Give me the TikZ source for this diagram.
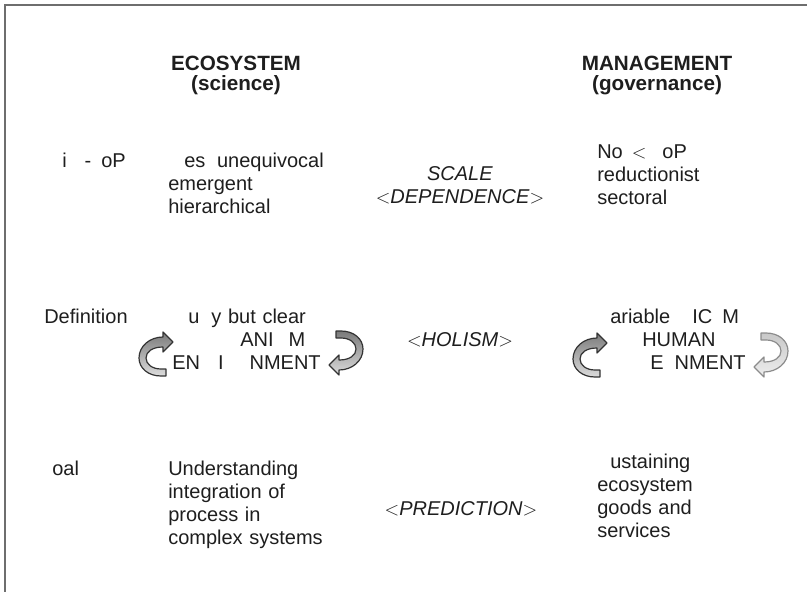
\documentclass[tikz,border=0pt]{standalone}
\usepackage{fontspec}
\setmainfont{Liberation Sans}
\usetikzlibrary{positioning}

\definecolor{rahmen}{HTML}{6E6E6E}
\definecolor{schrift}{HTML}{1E1E1E}
\definecolor{pfeilkopf}{HTML}{7A7A7A}
\definecolor{pfeilende}{HTML}{DCDCDC}
\definecolor{pfeilhell}{HTML}{C8C8C8}
\definecolor{pfeilblass}{HTML}{EEEEEE}
\newcommand{\grundschrift}{\fontsize{15}{17.25}\selectfont}

% U-turn ribbon arrow: position, rotation, head colour, tail colour, outline
\newcommand{\wendepfeil}[5]{%
  \begin{scope}[shift={#1},rotate=#2]
    \shade[draw=#5,line width=0.9pt,line join=round,top color=#3,bottom color=#4]
      (7,-17) .. controls (-6,-17) and (-17,-8) .. (-17,4)
      .. controls (-17,14) and (-8,22) .. (5,22) -- (10,22) -- (10,15) -- (5,15)
      .. controls (-4,15) and (-10,10) .. (-10,4)
      .. controls (-10,-2) and (-4,-7) .. (7,-7)
      -- (7,-2) -- (17,-12) -- (7,-22) -- cycle;
  \end{scope}}

\begin{document}
\begin{tikzpicture}[
  x=0.75pt, y=-0.75pt,
  every node/.style = {inner sep=0pt, text=schrift, font=\grundschrift},
  kopf/.style = {anchor=base, align=center, text width=160pt,
                 font=\bfseries\fontsize{15.5}{15.75}\selectfont},
  zeile/.style = {anchor=base west},
  block/.style = {anchor=base west, align=left, text width=150pt},
  mitte/.style = {anchor=base, align=center, text width=150pt}
  ]
  \useasboundingbox (0,0) rectangle (807,592);
  \draw[rahmen, line width=1.6pt] (5,592) |- (807,5);

  % column heads
  \node[kopf] (oekosystem) at (236,70) {ECOSYSTEM\\(science)};
  \node[kopf] (management) at (657,70) {MANAGEMENT\\(governance)};

  % first row
  \node[zeile] (sicht) at (62,167) {i\hspace{0.9em}-\hspace{0.5em}oP};
  \node[block] (sicht-oeko) at (168,167) {\hspace{0.8em}es\hspace{0.25em} unequivocal\\emergent\\hierarchical};
  \node[mitte] (skala) at (460,180) {\textit{SCALE}\\$<$\textit{DEPENDENCE}$>$};
  \node[block] (sicht-mgmt) at (597,158) {No\hspace{0.45em}$<$\hspace{0.8em}oP\\reductionist\\sectoral};

  % second row
  \node[zeile] (definition) at (44,323) {Definition};
  \node[block] (def-oeko) at (168,323) {\hspace{1em}u\hspace{0.6em}y but clear\\
    \hspace{3.6em}ANI\hspace{0.75em}M\\\hspace{0.2em}EN\hspace{0.9em}I\hspace{1.3em}NMENT};
  \node[mitte] (holismus) at (460,346) {$<$\textit{HOLISM}$>$};
  \node[block] (def-mgmt) at (610,323) {ariable\hspace{1.1em}IC\hspace{0.5em}M\\
    \hspace{1.6em}HUMAN\\\hspace{2em}E\hspace{0.55em}NMENT};

  % third row
  \node[zeile] (ziel) at (52,475) {oal};
  \node[block] (ziel-oeko) at (168,475) {Understanding\\integration of\\process in\\complex systems};
  \node[mitte] (vorhersage) at (461,515) {$<$\textit{PREDICTION}$>$};
  \node[block] (ziel-mgmt) at (597,468) {\hspace{0.65em}ustaining\\ecosystem\\goods and\\services};

  % feedback arrows
  \wendepfeil{(156,354)}{0}{pfeilkopf}{pfeilende}{black!80}
  \wendepfeil{(346,353)}{180}{pfeilkopf}{pfeilende}{black!80}
  \wendepfeil{(590,355)}{0}{pfeilkopf}{pfeilende}{black!80}
  \wendepfeil{(771,355)}{180}{pfeilhell}{pfeilblass}{black!45}
\end{tikzpicture}
\end{document}
